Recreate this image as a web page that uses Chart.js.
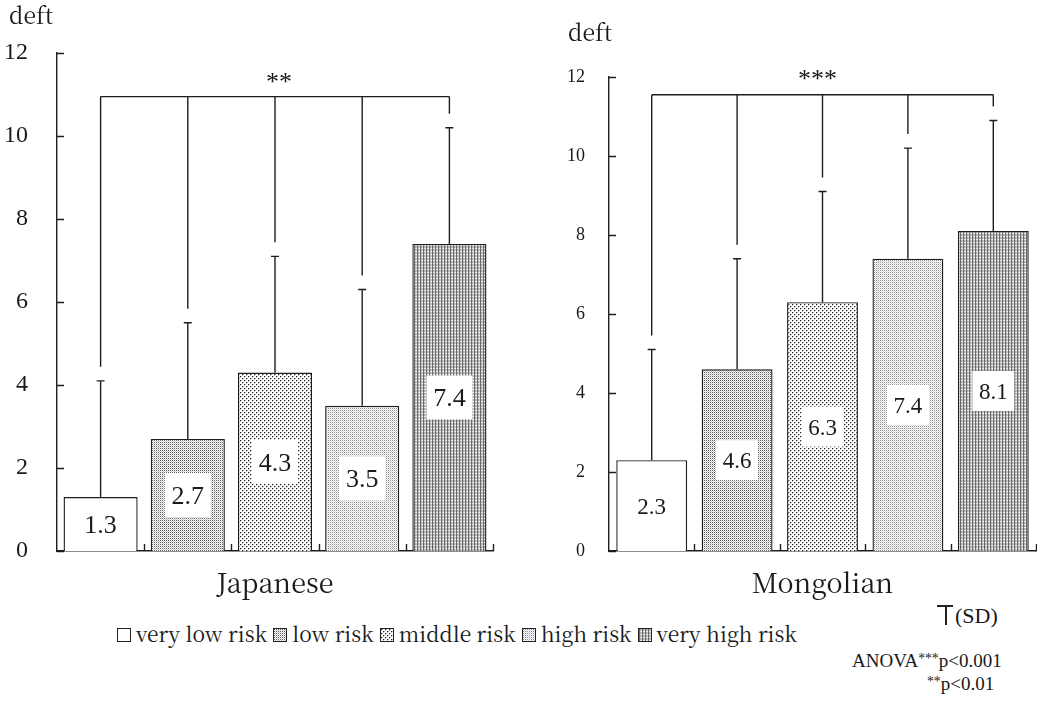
<!DOCTYPE html>
<html>
<head>
<meta charset="utf-8">
<title>deft by caries risk</title>
<script src="https://cdn.jsdelivr.net/npm/chart.js@4.4.1/dist/chart.umd.min.js"></script>
<style>
  html, body { margin: 0; padding: 0; background: #fff; }
  body { width: 1037px; height: 702px; position: relative; overflow: hidden; color: #1a1a1a; }
  canvas { position: absolute; top: 0; }
  #chartJp { left: 0; }
  #chartMn { left: 540px; }
  .legend {
    position: absolute; left: 117px; top: 619px; white-space: nowrap;
    font-family: "Noto Serif CJK JP", "Liberation Serif", serif; font-size: 21px; line-height: 28px;
  }
  .legend span.item { margin-right: 6px; }
  .legend canvas.sw {
    position: static; display: inline-block; width: 12px; height: 12px;
    border: 1px solid #222; vertical-align: 0px; margin-right: 5px;
  }
  .note { position: absolute; font-family: "Liberation Serif", serif; white-space: nowrap; }
  .note sup { font-size: 0.72em; vertical-align: 0.3em; }
  #sdMark { position: absolute; left: 937px; top: 605px; width: 16px; height: 20px; }
  #sdMark .h { position: absolute; left: 0; top: 0; width: 16px; height: 1.5px; background: #222; }
  #sdMark .v { position: absolute; left: 8px; top: 0; width: 1.5px; height: 20px; background: #222; }
</style>
</head>
<body>
<canvas id="chartJp" width="520" height="600"></canvas>
<canvas id="chartMn" width="497" height="600"></canvas>

<div class="legend" id="legend"></div>
<div id="sdMark"><div class="h"></div><div class="v"></div></div>
<div class="note" style="left:955px; top:603px; font-size:22px;">(SD)</div>
<div class="note" style="left:852px; top:650px; font-size:19px;">ANOVA<sup>***</sup>p&lt;0.001</div>
<div class="note" style="left:927px; top:673px; font-size:19px;"><sup>**</sup>p&lt;0.01</div>

<script>
// ---- data ----
const riskLevels = ['very low risk', 'low risk', 'middle risk', 'high risk', 'very high risk'];
const japaneseMeans = [1.3, 2.7, 4.3, 3.5, 7.4];
const japaneseSD = [2.8, 2.8, 2.8, 2.8, 2.8];
const mongolianMeans = [2.3, 4.6, 6.3, 7.4, 8.1];
const mongolianSD = [2.8, 2.8, 2.8, 2.8, 2.8];
const yTickValues = [0, 2, 4, 6, 8, 10, 12];
const groupNames = ['Japanese', 'Mongolian'];
const unitLabel = 'deft';
const japaneseStars = '**';
const mongolianStars = '***';
const japaneseBracketLevel = 10.95;
const mongolianBracketLevel = 11.55;

const SERIF_NUM = '"Liberation Serif", serif';
const SERIF_WORD = '"Noto Serif CJK JP", "Liberation Serif", serif';

// ---- halftone fills for the five risk levels ----
function makeFill(level) {
  if (level === 0) return '#ffffff';
  const c = document.createElement('canvas');
  const g = c.getContext('2d');
  const px = (x, y, col) => { g.fillStyle = col; g.fillRect(x, y, 1, 1); };
  const base = (w, h, col) => { c.width = w; c.height = h; g.fillStyle = col; g.fillRect(0, 0, w, h); };
  if (level === 1) {          // fine even stipple
    base(2, 2, '#ffffff');
    px(0, 0, '#5a5a5a'); px(1, 1, '#c4c4c4');
  } else if (level === 2) {   // coarse open dots
    base(4, 4, '#ffffff');
    px(0, 0, '#1e1e1e'); px(2, 2, '#1e1e1e');
    px(1, 0, '#b4b4b4'); px(0, 1, '#c4c4c4'); px(3, 2, '#b4b4b4'); px(2, 3, '#c4c4c4');
  } else if (level === 3) {   // light stipple
    base(2, 2, '#ffffff');
    px(0, 0, '#8c8c8c'); px(1, 1, '#d8d8d8');
  } else {                    // dense vertical screen
    base(3, 3, '#c6c6c6');
    for (let y = 0; y < 3; y++) px(0, y, '#6a6a6a');
    for (let y = 0; y < 3; y++) px(1, y, '#a8a8a8');
    px(1, 2, '#e4e4e4'); px(2, 2, '#f2f2f2');
  }
  return g.createPattern(c, 'repeat');
}
const riskFills = riskLevels.map((_, i) => makeFill(i));

// ---- legend swatches ----
const legendEl = document.getElementById('legend');
riskLevels.forEach((name, i) => {
  const item = document.createElement('span');
  item.className = 'item';
  const sw = document.createElement('canvas');
  sw.className = 'sw'; sw.width = 12; sw.height = 12;
  const sg = sw.getContext('2d');
  sg.fillStyle = riskFills[i]; sg.fillRect(0, 0, 12, 12);
  item.appendChild(sw);
  item.appendChild(document.createTextNode(name));
  legendEl.appendChild(item);
});

// ---- annotations: SD bars, significance bracket, value boxes, inward ticks ----
const annotationPlugin = {
  id: 'deftAnnotations',
  afterDatasetsDraw(chart, args, o) {
    const { ctx, chartArea } = chart;
    const xs = chart.scales.x, ys = chart.scales.y;
    const bars = chart.getDatasetMeta(0).data;
    ctx.save();
    ctx.strokeStyle = '#1e1e1e';
    ctx.lineWidth = 1.4;

    // inward tick marks
    ctx.beginPath();
    ys.ticks.forEach(t => {
      const py = Math.round(ys.getPixelForValue(t.value)) + 0.5;
      ctx.moveTo(chartArea.left, py); ctx.lineTo(chartArea.left + o.tickLen, py);
    });
    for (let i = 1; i <= xs.ticks.length; i++) {
      const px = Math.round(xs.getPixelForValue(i - 0.5)) + 0.5;
      ctx.moveTo(px, chartArea.bottom); ctx.lineTo(px, chartArea.bottom - o.tickLen);
    }
    ctx.stroke();

    // SD whiskers and bracket legs
    const yb = ys.getPixelForValue(o.bracket);
    ctx.beginPath();
    bars.forEach((bar, i) => {
      const top = ys.getPixelForValue(o.means[i] + o.sd[i]);
      ctx.moveTo(bar.x, bar.y); ctx.lineTo(bar.x, top);
      ctx.moveTo(bar.x - 4, top); ctx.lineTo(bar.x + 4, top);
      ctx.moveTo(bar.x, yb); ctx.lineTo(bar.x, top - o.legGap);
    });
    ctx.moveTo(bars[0].x, yb); ctx.lineTo(bars[bars.length - 1].x, yb);
    ctx.stroke();

    // significance stars
    ctx.fillStyle = '#1a1a1a';
    ctx.textAlign = 'center';
    ctx.textBaseline = 'middle';
    ctx.font = o.starFont;
    ctx.fillText(o.stars, (bars[0].x + bars[bars.length - 1].x) / 2 + o.starDx, yb - o.starRise);

    // value boxes at mid-height of each bar
    ctx.font = o.valueFont;
    bars.forEach((bar, i) => {
      const mid = (bar.y + bar.base) / 2;
      ctx.fillStyle = '#ffffff';
      ctx.fillRect(bar.x - o.boxW / 2, mid - o.boxH / 2, o.boxW, o.boxH);
      ctx.fillStyle = '#1a1a1a';
      ctx.fillText(o.means[i].toFixed(1), bar.x, mid + 2);
    });

    // unit label
    ctx.textAlign = 'left';
    ctx.font = o.unitFont;
    ctx.fillText(unitLabel, o.unitX, o.unitY);
    ctx.restore();
  }
};

function buildChart(canvasId, group, means, sd, stars, bracket, geom) {
  return new Chart(document.getElementById(canvasId), {
    type: 'bar',
    data: {
      labels: riskLevels,
      datasets: [{
        data: means,
        backgroundColor: riskFills,
        borderColor: '#1e1e1e',
        borderWidth: 1.4,
        categoryPercentage: 1,
        barPercentage: geom.barPct
      }]
    },
    options: {
      responsive: false,
      animation: false,
      events: [],
      layout: { padding: { top: geom.top, right: geom.right, left: 0, bottom: 0 } },
      scales: {
        x: {
          grid: { display: false },
          border: { display: true, color: '#1e1e1e', width: 1.4 },
          ticks: { display: false },
          title: {
            display: true, text: group, color: '#1a1a1a',
            font: { family: SERIF_WORD, size: 27 }, padding: { top: 0, bottom: geom.titlePad }
          },
          afterFit: s => { s.height = geom.xHeight; }
        },
        y: {
          min: 0, max: 12,
          afterBuildTicks: s => { s.ticks = yTickValues.map(v => ({ value: v })); },
          grid: { display: false },
          border: { display: true, color: '#1e1e1e', width: 1.4 },
          ticks: {
            color: '#1a1a1a', padding: geom.tickPad,
            font: { family: SERIF_NUM, size: geom.tickSize }
          },
          afterFit: s => { s.width = geom.yWidth; }
        }
      },
      plugins: {
        legend: { display: false },
        tooltip: { enabled: false },
        deftAnnotations: {
          means, sd, stars, bracket,
          tickLen: 7, legGap: 14,
          starFont: '26px ' + SERIF_NUM, starRise: geom.starRise, starDx: geom.starDx,
          valueFont: geom.valueFont, boxW: geom.boxW, boxH: geom.boxH,
          unitFont: geom.unitFont, unitX: geom.unitX, unitY: geom.unitY
        }
      }
    },
    plugins: [annotationPlugin]
  });
}

function drawAll() {
  buildChart('chartJp', groupNames[0], japaneseMeans, japaneseSD, japaneseStars, japaneseBracketLevel, {
    top: 53, right: 27, yWidth: 57, xHeight: 49, barPct: 0.85, titlePad: 1,
    tickPad: 21, tickSize: 24, starRise: 13, starDx: 4,
    valueFont: '26px ' + SERIF_NUM, boxW: 46, boxH: 44,
    unitFont: '23px ' + SERIF_WORD, unitX: 9, unitY: 15
  });
  buildChart('chartMn', groupNames[1], mongolianMeans, mongolianSD, mongolianStars, mongolianBracketLevel, {
    top: 77, right: 1, yWidth: 69, xHeight: 49, barPct: 0.83, titlePad: 1,
    tickPad: 16, tickSize: 18, starRise: 15, starDx: -5,
    valueFont: '23px ' + SERIF_NUM, boxW: 42, boxH: 40,
    unitFont: '23px ' + SERIF_WORD, unitX: 28, unitY: 32
  });
}

Promise.all([
  document.fonts.load('22px "Liberation Serif"'),
  document.fonts.load('22px "Noto Serif CJK JP"')
]).catch(() => {}).then(drawAll);
</script>
</body>
</html>
